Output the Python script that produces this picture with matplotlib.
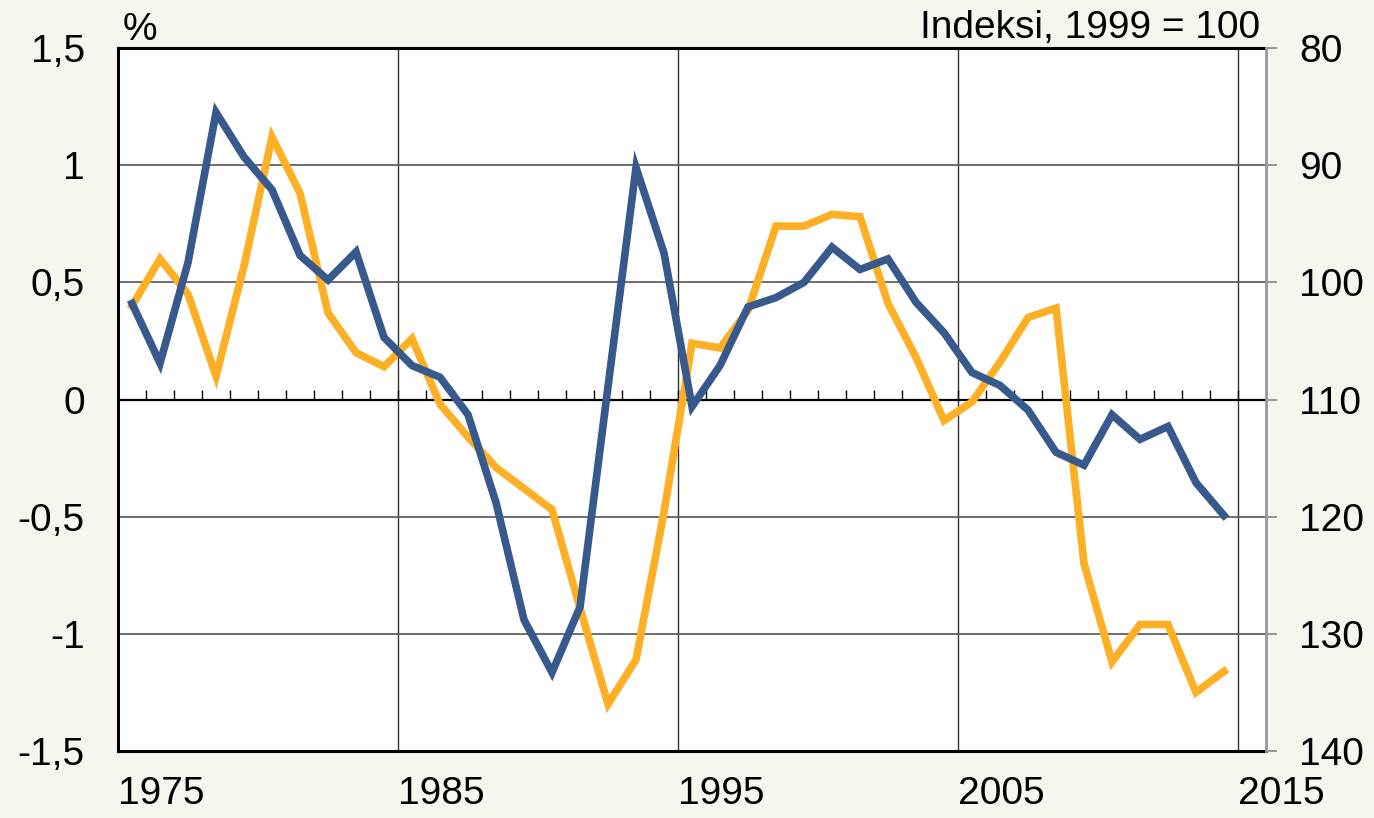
import numpy as np
import matplotlib.pyplot as plt

plt.rcParams["font.family"] = ["Liberation Sans", "DejaVu Sans"]
plt.rcParams["font.size"] = 28

# annual data 1975-2014, drawn at mid-year
years = np.arange(1975, 2015)

# orange series, % (left axis)
pct = [0.40, 0.60, 0.45, 0.10, 0.57, 1.12, 0.88, 0.37, 0.20, 0.14,
       0.26, -0.02, -0.16, -0.29, -0.38, -0.47, -0.89, -1.30, -1.11, -0.48,
       0.24, 0.22, 0.38, 0.74, 0.74, 0.79, 0.78, 0.41, 0.18, -0.09,
       -0.01, 0.16, 0.35, 0.39, -0.70, -1.12, -0.96, -0.96, -1.25, -1.16]

# blue series, index 1999 = 100 (right axis, inverted)
index = [101.8, 106.9, 98.3, 85.5, 89.3, 92.1, 97.7, 99.8, 97.4, 104.7,
         107.1, 108.1, 111.3, 118.8, 128.8, 133.3, 127.7, 108.9, 90.2, 97.5,
         110.6, 107.1, 102.1, 101.3, 100.0, 97.0, 98.9, 98.0, 101.7, 104.3,
         107.7, 108.8, 110.9, 114.5, 115.6, 111.3, 113.4, 112.3, 117.1, 119.9]

left_ticks = [-1.5, -1.0, -0.5, 0.0, 0.5, 1.0, 1.5]
right_ticks = [80, 90, 100, 110, 120, 130, 140]
year_labels = [1975, 1985, 1995, 2005, 2015]

bg = "#f8f4ee"
orange = "#fdb026"
blue = "#38598c"

fig = plt.figure(figsize=(13.74, 8.18), dpi=100, facecolor=bg)
ax1 = fig.add_axes([0.0859, 0.0819, 0.8355, 0.8594])
ax1.set_facecolor("white")

x = years + 0.5
ax1.plot(x, pct, color=orange, lw=5.5, solid_joinstyle="miter")
ax1.set_xlim(1975, 2016)
ax1.set_ylim(-1.5, 1.5)

ax1.set_yticks(left_ticks)
ax1.set_yticklabels([f"{v:g}".replace(".", ",") for v in left_ticks])
ax1.set_xticks(year_labels)
ax1.set_xticklabels([str(y) for y in year_labels], ha="left")
ax1.tick_params(axis="y", length=0, pad=24)
ax1.tick_params(axis="x", length=0, pad=18)

ax1.grid(axis="y", color="#555555", lw=1.2)
ax1.grid(axis="x", color="#333333", lw=1)
ax1.set_axisbelow(True)

# zero line with small year ticks
ax1.axhline(0, color="black", lw=1.6, zorder=1.5)
ax1.vlines(np.arange(1976, 2016), 0, 0.04, color="black", lw=1, zorder=1.5)

for s in ["left", "top", "bottom"]:
    ax1.spines[s].set_linewidth(2.2)
    ax1.spines[s].set_color("black")
ax1.spines["right"].set_visible(False)

ax2 = ax1.twinx()
ax2.plot(x, index, color=blue, lw=5.5, solid_joinstyle="miter")
ax2.set_ylim(140, 80)
ax2.set_yticks(right_ticks)
ax2.tick_params(axis="y", length=8, width=1.5, color="#999999", pad=16)
for s in ["left", "top", "bottom"]:
    ax2.spines[s].set_visible(False)
ax2.spines["right"].set_color("#999999")
ax2.spines["right"].set_linewidth(2)

ax1.text(0.004, 1.011, "%", transform=ax1.transAxes, ha="left", va="baseline")
ax1.text(0.995, 1.014, "Indeksi, 1999 = 100", transform=ax1.transAxes,
         ha="right", va="baseline")

fig.savefig("out.png", dpi=100, facecolor=bg)
